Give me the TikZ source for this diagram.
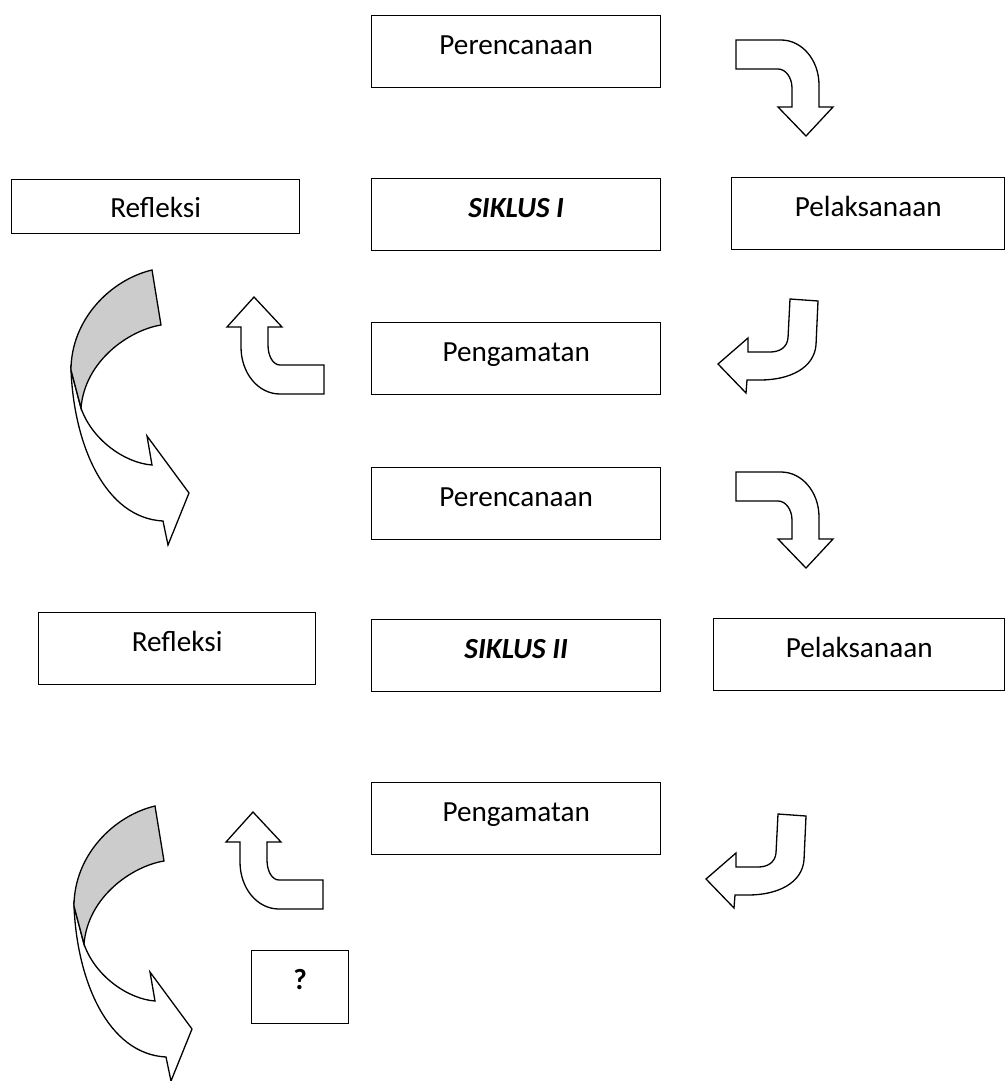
\documentclass[tikz,border=0pt]{standalone}
\usepackage{fontspec}
\setmainfont{Carlito}
\usepackage{tikz}
\definecolor{foldgray}{RGB}{204,204,204}
\newcommand{\boxfont}{\fontsize{29.2}{35}\selectfont}

\tikzset{
  stagebox/.style={draw, line width=1.4pt, inner sep=0pt, anchor=north west,
    minimum width=289pt, text height=39pt, text depth=33pt, font=\boxfont},
  cyclebox/.style={stagebox, font=\boxfont\bfseries\itshape},
  blockarrow/.style={draw, line width=1.3pt, fill=white, line join=miter},
}

\begin{document}
\begin{tikzpicture}[x=1pt, y=-1pt]
\useasboundingbox (0,0) rectangle (1006,1081);

% first cycle
\node[stagebox] (plan1) at (371,15) {Perencanaan};
\node[cyclebox] (cycle1) at (371,178) {SIKLUS I};
\node[stagebox, minimum width=273pt] (act1) at (731,177) {Pelaksanaan};
\node[stagebox, minimum width=288pt, text height=38pt, text depth=16pt] (refl1) at (11,179) {Refleksi};
\node[stagebox] (obs1) at (371,322) {Pengamatan};

% second cycle
\node[stagebox] (plan2) at (371,467) {Perencanaan};
\node[cyclebox] (cycle2) at (371,619) {SIKLUS II};
\node[stagebox, minimum width=291pt] (act2) at (713,618) {Pelaksanaan};
\node[stagebox, minimum width=277pt] (refl2) at (38,612) {Refleksi};
\node[stagebox] (obs2) at (371,782) {Pengamatan};
\node[stagebox, minimum width=97pt, text depth=34pt, font=\boxfont\bfseries] (next) at (251,950) {?};

% bent arrows, one set per cycle
\foreach \dy in {0,432}
  \draw[blockarrow, shift={(0,\dy)}] (736,40) -- (781,40) .. controls (802,40) and (819,60) .. (819,85)
    -- (819,107) -- (833,107) -- (806,136) -- (778,107) -- (792,107) -- (792,88)
    .. controls (792,78) and (786,69) .. (778,69) -- (736,69) -- cycle;

\foreach \dx/\dy in {0/0,-12/515}
  \draw[blockarrow, shift={(\dx,\dy)}] (790,299) -- (818,301) -- (816,345)
    .. controls (814,368) and (790,380) .. (760,380) -- (747,380) -- (746,393) -- (718,364)
    -- (748,338) -- (748,352) -- (770,352) .. controls (779,352) and (787,348) .. (788,338) -- cycle;

\foreach \dx/\dy in {0/0,-1/515}
  \draw[blockarrow, shift={(\dx,\dy)}] (254,297) -- (282,327) -- (268,327) -- (268,345)
    .. controls (268,356) and (273,365) .. (280,365) -- (324,365) -- (324,394) -- (280,394)
    .. controls (258,394) and (241,373) .. (241,347) -- (241,327) -- (227,327) -- cycle;

% curved arrows back to planning
\foreach \dx/\dy in {0/0,3/536}{
  \draw[blockarrow, shift={(\dx,\dy)}] (71,370) .. controls (74,445) and (105,518) .. (163,521)
    -- (168,545) -- (189,493) -- (147,436) -- (152,465)
    .. controls (125,463) and (92,440) .. (81,408) -- cycle;
  \draw[blockarrow, fill=foldgray, shift={(\dx,\dy)}] (152,270) .. controls (110,280) and (71,320) .. (71,370)
    -- (81,408) .. controls (85,360) and (130,330) .. (161,325) -- cycle;
}
\end{tikzpicture}
\end{document}
